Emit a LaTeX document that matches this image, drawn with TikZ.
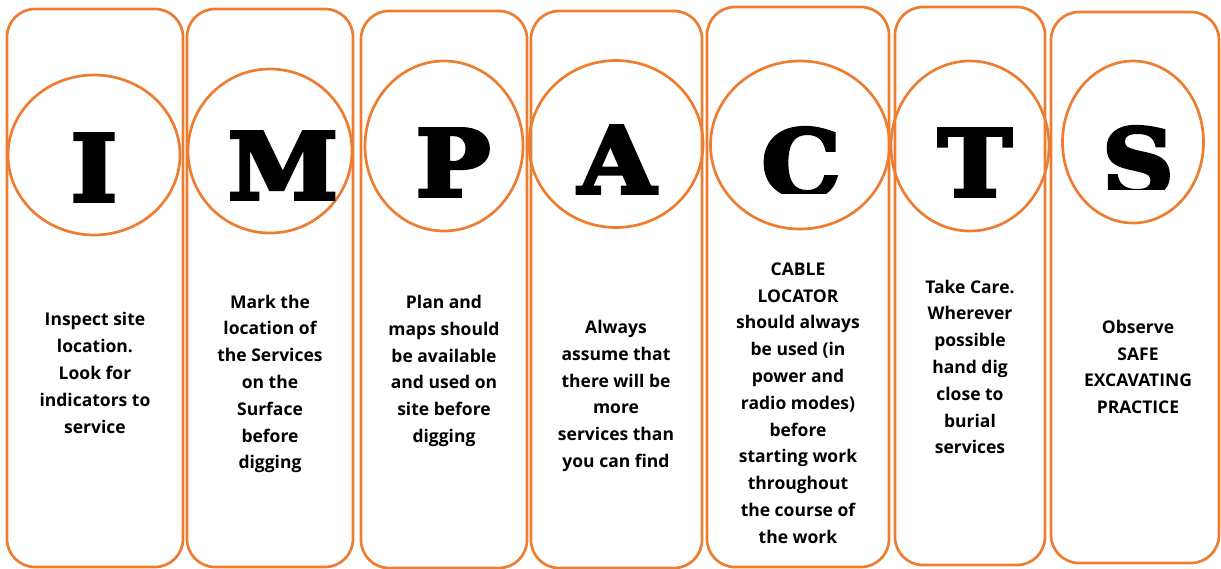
\documentclass[tikz,border=0pt]{standalone}
\usepackage{fontspec}
\setmainfont{Open Sans}
\newfontfamily\letterfont{DejaVu Serif}[BoldFeatures={FakeBold=4}]
\usetikzlibrary{shapes.geometric}
\definecolor{orng}{HTML}{ED7D31}
\begin{document}
\begin{tikzpicture}[x=1pt,y=-1pt,
  panel/.style={draw=orng, line width=2.7pt, rounded corners=28pt, inner sep=0pt},
  ring/.style={ellipse, draw=orng, line width=2.7pt, inner sep=0pt},
  letter/.style={font=\letterfont\bfseries\fontsize{92}{92}\selectfont, anchor=base, inner sep=0pt, xscale=1.08},
  desc/.style={font=\bfseries\fontsize{17.5}{26.8}\selectfont, align=center, inner sep=0pt}]
\useasboundingbox (0,0) rectangle (1221,568);
% panels
\node[panel, minimum width=176pt, minimum height=558pt] (p1) at (95,288) {};
\node[panel, minimum width=166pt, minimum height=558pt] (p2) at (270,288) {};
\node[panel, minimum width=166pt, minimum height=557pt] (p3) at (444,289.5) {};
\node[panel, minimum width=171pt, minimum height=557pt] (p4) at (616.5,289.5) {};
\node[panel, minimum width=182pt, minimum height=560pt] (p5) at (798,287) {};
\node[panel, minimum width=150pt, minimum height=558pt] (p6) at (970,286) {};
\node[panel, minimum width=168pt, minimum height=551pt] (p7) at (1135,287.5) {};
% rings
\node[ring, minimum width=172pt, minimum height=160pt] (r1) at (94,155) {};
\node[ring, minimum width=164pt, minimum height=164pt] (r2) at (270,151) {};
\node[ring, minimum width=158pt, minimum height=170pt] (r3) at (444,146) {};
\node[ring, minimum width=174pt, minimum height=167pt] (r4) at (616,144) {};
\node[ring, minimum width=179pt, minimum height=168pt] (r5) at (800,145) {};
\node[ring, minimum width=158pt, minimum height=170pt] (r6) at (970,146) {};
\node[ring, minimum width=141pt, minimum height=162pt] (r7) at (1133,142) {};
% letters
\node[letter] (l1) at (94,201) {I};
\node[letter] (l2) at (283,199) {M};
\node[letter] (l3) at (453,196) {P};
\node[letter] (l4) at (617,193) {A};
\begin{scope}
\clip (720,100) rectangle (880,193);
\node[letter] (l5) at (801,196) {C};
\end{scope}
\node[letter] (l6) at (975,196) {T};
\begin{scope}
\clip (1080,100) rectangle (1200,189);
\node[letter] (l7) at (1138,195) {S};
\end{scope}
% descriptions
\node[desc] (d1) at (95,373) {Inspect site\\location.\\Look for\\indicators to\\service};
\node[desc] (d2) at (270,384) {Mark the\\location of\\the Services\\on the\\Surface\\before\\digging};
\node[desc] (d3) at (444,371) {Plan and\\maps should\\be available\\and used on\\site before\\digging};
\node[desc] (d4) at (616,396) {Always\\assume that\\there will be\\more\\services than\\you can find};
\node[desc] (d5) at (798,403) {CABLE\\LOCATOR\\should always\\be used (in\\power and\\radio modes)\\before\\starting work\\throughout\\the course of\\the work};
\node[desc] (d6) at (970,367) {Take Care.\\Wherever\\possible\\hand dig\\close to\\burial\\services};
\node[desc] (d7) at (1138,367) {Observe\\SAFE\\EXCAVATING\\PRACTICE};
\end{tikzpicture}
\end{document}
